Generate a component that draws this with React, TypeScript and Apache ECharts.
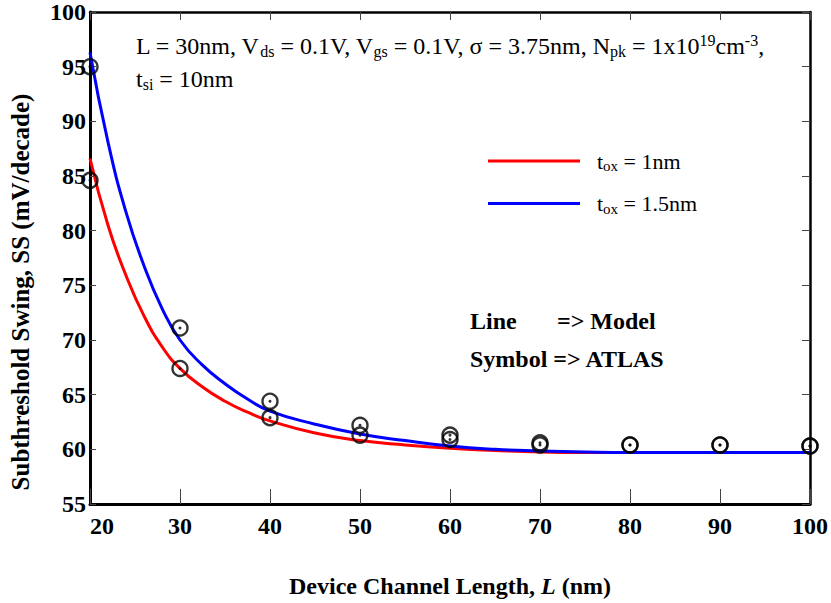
import React, { useEffect, useRef } from "react";
import * as echarts from "echarts";

// Model curves: subthreshold swing vs. channel length
const modelL = [20, 22, 24, 26, 28, 30, 32.5, 35, 37.5, 40, 45, 50, 55, 60, 65, 70, 75, 80, 90, 100];
const modelTox1 = [86.6, 80.5, 75.9, 72.2, 69.4, 67.4, 65.7, 64.4, 63.4, 62.6, 61.5, 60.8, 60.4, 60.1, 59.9, 59.75, 59.7, 59.7, 59.7, 59.7];
const modelTox15 = [96.3, 88.1, 81.7, 76.8, 72.9, 70.0, 67.7, 66.0, 64.6, 63.5, 62.3, 61.4, 60.8, 60.3, 60.0, 59.85, 59.75, 59.7, 59.7, 59.7];

// ATLAS simulation points
const atlasL = [20, 30, 40, 50, 60, 70, 80, 90, 100];
const atlasTox1 = [84.6, 67.4, 62.9, 61.3, 60.9, 60.4, 60.4, 60.4, 60.3];
const atlasTox15 = [95.0, 71.1, 64.4, 62.2, 61.3, 60.6, 60.4, 60.4, 60.3];

const nameTox1 = "tox = 1nm";
const nameTox15 = "tox = 1.5nm";

const FONT = '"Times New Roman", "Liberation Serif", serif';

const pairs = (xs: number[], ys: number[]) => xs.map((x, i) => [x, ys[i]]);

export default function App() {
  const ref = useRef<HTMLDivElement>(null);

  useEffect(() => {
    if (!ref.current) return;
    const chart = echarts.init(ref.current, undefined, { renderer: "svg" });

    const txt = (size: number) => ({ fontFamily: FONT, fontSize: size, color: "#000" });
    const sub = (size: number, pad: number) => ({ ...txt(size), padding: [pad, 0, 0, 0] });
    const sup = (size: number, pad: number) => ({ ...txt(size), padding: [0, 0, pad, 0] });

    const ringSeries = (name: string, ys: number[]) => [
      {
        name: name + " ATLAS",
        type: "scatter",
        data: pairs(atlasL, ys),
        symbol: "circle",
        symbolSize: 15,
        itemStyle: { color: "rgba(0,0,0,0)", borderColor: "#000", borderWidth: 2.4 },
        z: 5,
      },
      {
        name: name + " ATLAS dot",
        type: "scatter",
        data: pairs(atlasL, ys),
        symbol: "circle",
        symbolSize: 3,
        itemStyle: { color: "#000" },
        z: 6,
      },
    ];

    chart.setOption({
      animation: false,
      backgroundColor: "#fff",
      grid: { left: 90, right: 17, top: 11, bottom: 90, containLabel: false },
      legend: {
        data: [nameTox1, nameTox15],
        orient: "vertical",
        left: 483,
        top: 145,
        icon: "rect",
        itemWidth: 92,
        itemHeight: 3,
        itemGap: 19,
        formatter: (n: string) =>
          n === nameTox1 ? "{t|t}{s|ox}{t| = 1nm}" : "{t|t}{s|ox}{t| = 1.5nm}",
        textStyle: {
          padding: [0, 0, 0, 12],
          rich: { t: txt(22), s: sub(15, 10) },
        },
      },
      xAxis: [
        {
          type: "value",
          min: 20,
          max: 100,
          interval: 10,
          position: "bottom",
          name: "{b|Device Channel Length, }{i|L}{b| (nm)}",
          nameLocation: "middle",
          nameGap: 70,
          nameTextStyle: {
            rich: {
              b: { fontFamily: FONT, fontSize: 24, fontWeight: "bold", color: "#000" },
              i: { fontFamily: FONT, fontSize: 24, fontWeight: "bold", fontStyle: "italic", color: "#000" },
            },
          },
          axisLine: { show: true, onZero: false, lineStyle: { color: "#000", width: 3 } },
          axisTick: { show: true, inside: true, length: 15, lineStyle: { color: "#444", width: 1 } },
          axisLabel: {
            margin: 10,
            fontFamily: FONT,
            fontSize: 24,
            fontWeight: "bold",
            color: "#000",
            alignMinLabel: "left",
          },
          splitLine: { show: false },
        },
        {
          type: "value",
          min: 20,
          max: 100,
          interval: 10,
          position: "top",
          axisLine: { show: true, onZero: false, lineStyle: { color: "#000", width: 2.5 } },
          axisTick: { show: true, inside: true, length: 8, lineStyle: { color: "#444", width: 1 } },
          axisLabel: { show: false },
          splitLine: { show: false },
        },
      ],
      yAxis: [
        {
          type: "value",
          min: 55,
          max: 100,
          interval: 5,
          position: "left",
          axisLine: { show: true, onZero: false, lineStyle: { color: "#000", width: 3 } },
          axisTick: { show: true, inside: true, length: 6, lineStyle: { color: "#444", width: 1 } },
          axisLabel: {
            margin: 4,
            padding: [10, 0, 0, 0],
            fontFamily: FONT,
            fontSize: 24,
            fontWeight: "bold",
            color: "#000",
          },
          splitLine: { show: false },
        },
        {
          type: "value",
          min: 55,
          max: 100,
          interval: 5,
          position: "right",
          axisLine: { show: true, onZero: false, lineStyle: { color: "#000", width: 2.5 } },
          axisTick: { show: true, inside: true, length: 8, lineStyle: { color: "#444", width: 1 } },
          axisLabel: { show: false },
          splitLine: { show: false },
        },
      ],
      graphic: [
        {
          type: "text",
          x: 20,
          y: 292,
          rotation: Math.PI / 2,
          style: {
            text: "Subthreshold Swing, SS (mV/decade)",
            fontFamily: FONT,
            fontSize: 25,
            fontWeight: "bold",
            fill: "#000",
            align: "center",
            verticalAlign: "middle",
          },
        },
        {
          type: "text",
          left: 136,
          top: 32,
          style: {
            text:
              "{t|L = 30nm, V}{s|ds}{t| = 0.1V, V}{s|gs}{t| = 0.1V, σ = 3.75nm, N}{s|pk}{t| = 1x10}{p|19}{t|cm}{p|-3}{t|,}\n{t|t}{s|si}{t| = 10nm}",
            rich: { t: { ...txt(24), lineHeight: 33 }, s: sub(16, 11), p: sup(16, 11) },
          },
        },
        {
          type: "text",
          left: 470,
          top: 309,
          style: { text: "Line", fontFamily: FONT, fontSize: 24, fontWeight: "bold", fill: "#000" },
        },
        {
          type: "text",
          left: 557,
          top: 309,
          style: { text: "=> Model", fontFamily: FONT, fontSize: 24, fontWeight: "bold", fill: "#000" },
        },
        {
          type: "text",
          left: 470,
          top: 347,
          style: { text: "Symbol => ATLAS", fontFamily: FONT, fontSize: 24, fontWeight: "bold", fill: "#000" },
        },
      ],
      series: [
        {
          name: nameTox1,
          type: "line",
          data: pairs(modelL, modelTox1),
          smooth: true,
          showSymbol: false,
          lineStyle: { color: "#ff0000", width: 3 },
          itemStyle: { color: "#ff0000" },
          z: 3,
        },
        {
          name: nameTox15,
          type: "line",
          data: pairs(modelL, modelTox15),
          smooth: true,
          showSymbol: false,
          lineStyle: { color: "#0000ff", width: 3 },
          itemStyle: { color: "#0000ff" },
          z: 4,
        },
        ...ringSeries(nameTox1, atlasTox1),
        ...ringSeries(nameTox15, atlasTox15),
      ],
    });

    return () => chart.dispose();
  }, []);

  return (
    <div
      ref={ref}
      style={{ position: "fixed", left: 0, top: 0, width: 831, height: 603, background: "#fff" }}
    />
  );
}
